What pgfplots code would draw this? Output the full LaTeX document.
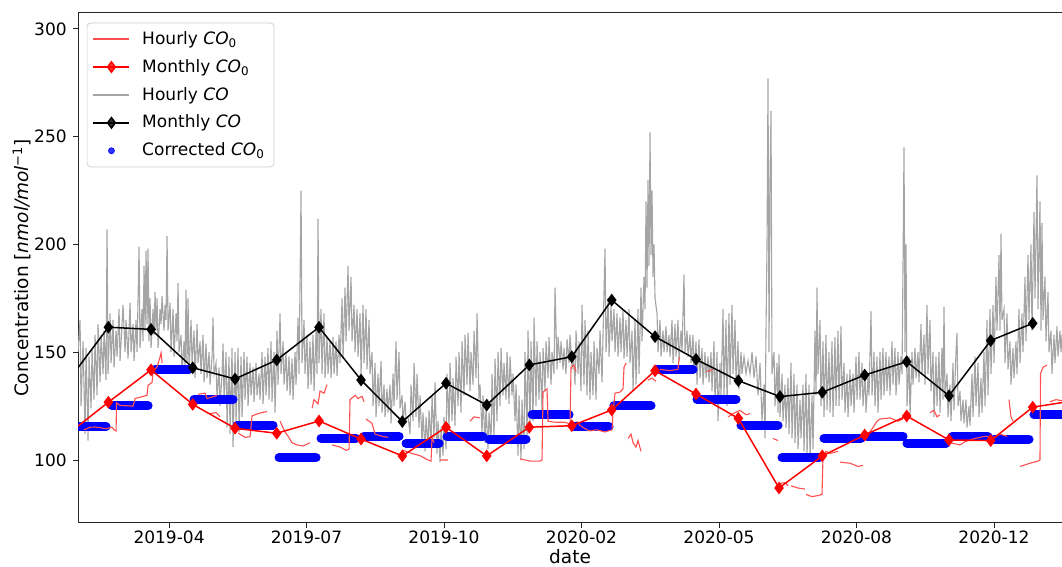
\documentclass[border=0pt]{standalone}
\usepackage{fontspec}
\setmainfont{DejaVu Sans}
\usepackage{pgfplots}
\pgfplotsset{compat=1.18}
\definecolor{hred}{RGB}{255,80,80}
\definecolor{hgrey}{RGB}{165,165,165}
\definecolor{cblue}{RGB}{0,0,255}
\begin{document}
\begin{tikzpicture}
\begin{axis}[
  scale only axis,
  width=531.9pt, height=275.7pt,
  xmin=78, xmax=1062, ymin=70.8, ymax=307.4,
  axis line style={black!85, line width=0.5pt},
  xtick={169,306.5,444,581.5,719,856.5,994},
  xticklabels={2019-04,2019-07,2019-10,2020-02,2020-05,2020-08,2020-12},
  ytick={100,150,200,250,300},
  tick align=outside, major tick length=2.6pt,
  tick style={black!85, line width=0.5pt},
  xtick pos=bottom, ytick pos=left,
  /pgf/number format/assume math mode=true,
  ticklabel style={font=\fontsize{9.2}{11}\selectfont},
  xticklabel style={yshift=2pt},
  xlabel={date}, ylabel={Concentration [\textit{nmol/mol}\textsuperscript{−1}]},
  label style={font=\fontsize{10}{12}\selectfont},
  xlabel style={at={(axis description cs:0.5,-0.0667)}, anchor=center},
  ylabel style={at={(axis description cs:-0.0569,0.5)}, anchor=center},
  unbounded coords=jump,
  legend cell align=left,
  legend style={at={(0,1)}, anchor=north west, xshift=4.7pt, yshift=-5.2pt,
    draw=black!20, rounded corners=2pt, fill=white, fill opacity=0.8, text opacity=1,
    font=\fontsize{9.2}{11}\selectfont, row sep=2.6pt, inner xsep=3pt, inner ysep=2.5pt},
  legend image code/.code={\draw[mark repeat=2,mark phase=2] plot coordinates {(0pt,0pt)(9.75pt,0pt)(19.5pt,0pt)};\path (24pt,0pt);},
]
% Hourly CO (grey)
\addplot[hgrey, line width=0.6pt, forget plot] coordinates {
(78,150)(80,165)(81,125)(83,155)(85,112)(86,152)(88,109)(89,148)(91,124)(92,151)(94,128)(95,158)(97,130)(98,163)(100,136)(101,158)(103,140)(104,160)(106,137)(107,207)(108,140)(110,168)(111,145)(113,165)(114,143)(116,160)(117,148)(119,170)(120,146)
(123,172)(125,150)(126,165)(128,147)(130,173)(131,150)(133,163)(134,146)(136,165)(137,150)(139,199)(140,152)(142,170)(143,155)(144,190)(145,160)(146,197)(147,163)(148,198)(149,155)(150,175)(151,152)(153,170)(154,158)(155,178)(156,160)(157,175)(158,152)(160,170)(161,163)(162,176)(164,160)(165,172)(166,165)(167,204)(168,160)(170,173)(171,150)(173,170)(174,148)(176,168)(177,155)(178,182)(179,150)(181,158)(182,140)(184,155)(185,142)(186,179)(187,145)(188,175)(189,140)(191,165)(192,145)(194,160)(195,138)(197,163)(198,145)(200,155)(201,140)(203,158)(204,136)(206,154)(207,138)(209,150)(210,135)(212,148)(213,166)(214,140)(216,145)(217,128)(219,143)(220,125)(222,140)(223,154)(224,128)(226,150)(227,115)(229,148)(230,112)(232,152)(233,106)(235,150)(236,118)(238,152)(239,113)(241,148)(242,120)
(244,150)(245,128)(247,148)(248,125)(250,145)(251,130)(253,143)(254,127)(256,145)(257,130)(259,140)(260,128)(262,150)(263,126)(265,148)(266,130)(268,152)(269,128)(271,155)(272,127)(274,150)(275,122)(277,160)(278,135)(280,168)(281,140)(283,155)(284,135)(286,150)(287,132)(289,148)(290,130)(292,147)(293,128)(295,150)(296,135)(298,166)(299,140)(301,225)(302,145)(304,165)(305,140)(307,158)(308,133)(310,155)(311,135)(313,158)(314,132)(316,160)(317,140)(318,212)(319,145)(321,170)(322,140)(324,168)(325,138)(327,157)(328,140)(330,155)(331,138)(333,157)(334,140)(336,155)(337,139)(339,158)(340,145)(342,175)(343,147)(345,180)(346,155)(348,190)(349,160)(351,185)(352,155)(354,172)(355,150)(357,170)(358,148)(360,168)(361,140)(363,172)(364,145)(366,170)(367,142)(369,165)(370,140)(372,150)(373,125)(375,145)(376,120)(378,140)(379,125)(381,146)(382,122)(384,135)(385,120)(387,133)(388,122)(390,135)(391,117)(393,140)(394,125)(396,155)(397,128)(399,150)(400,124)(402,130)(403,118)(405,127)(406,119)
(408,120)(410,112)(411,135)(413,118)(414,145)(416,120)(417,140)(419,115)(420,130)(422,108)(423,122)(425,104)(426,120)(428,106)(429,123)(431,108)(432,130)(434,110)(435,136)(437,103)(438,118)(440,99)(441,115)(443,102)(444,120)(446,105)(447,140)(449,115)(450,145)(452,118)(453,138)(455,116)(456,148)(458,125)(459,150)(461,122)(462,155)(464,130)(465,158)(467,135)(468,159)(470,132)(471,150)(473,135)(474,160)(476,138)(477,168)(479,128)(480,135)(482,112)(483,130)(485,108)(486,125)(488,105)(489,122)(491,108)(492,140)(494,110)(495,147)(497,118)(498,150)(500,125)(501,152)(503,130)(504,145)(506,128)(507,150)(509,126)(510,148)(512,130)(513,140)(515,118)(516,135)(518,102)(519,130)(521,100)(522,128)(524,105)(525,150)(527,110)(528,160)(530,115)(531,155)(533,118)(534,166)(536,125)(537,155)(539,128)(540,150)(542,122)(543,152)(545,132)(546,155)(548,138)(549,157)(551,135)(552,150)(554,140)(555,180)(557,142)(558,157)(560,145)(561,155)(563,142)(564,152)(566,140)(567,156)(569,145)(570,158)(572,142)(573,150)
(575,135)(576,160)(578,140)(579,155)(581,132)(582,172)(584,135)(585,165)(587,130)(588,160)(590,128)(591,150)(593,130)(594,155)(596,128)(597,152)(599,140)(600,160)(602,136)(603,158)(605,198)(606,150)(608,175)(609,148)(611,172)(612,155)(614,170)(615,150)(617,168)(618,148)(620,166)(621,150)(623,170)(624,147)(626,165)(627,148)(629,170)(630,145)(632,160)(633,132)(635,165)(636,135)(638,170)(639,140)(641,180)(642,155)(644,185)(645,170)(646,220)(647,180)(648,230)(649,190)(650,252)(651,195)(652,225)(653,185)(654,200)(655,175)(657,168)(658,150)(660,165)(661,148)(663,160)(664,150)(666,162)(667,150)(669,158)(670,148)(672,165)(673,145)(675,163)(676,148)(678,165)(679,146)(681,160)(682,150)(684,186)(685,150)(687,160)(688,148)(690,158)(691,145)(693,158)(694,140)(696,155)(697,135)(699,156)(700,138)(702,152)(703,135)(705,150)(706,138)(708,148)(709,136)(711,150)(712,132)(714,155)(715,125)(717,150)(718,118)(720,145)(721,130)(723,170)(724,130)(726,165)(727,125)(729,168)(730,135)(732,172)(733,140)(735,165)(736,135)(738,155)
(739,133)(741,150)(742,140)(744,148)(746,140)(748,146)(750,140)(752,150)(754,138)(756,148)(758,130)(760,145)(762,118)(764,135)(765,110)(766,160)(767,200)(768,277)(769,150)(770,230)(771,262)(772,140)(774,150)(775,125)(777,145)(778,122)(779,149)(780,120)(782,140)(783,118)(785,135)(786,115)(788,138)(789,112)(791,145)(792,110)(794,140)(795,108)(797,135)(798,105)(800,128)(801,110)(803,135)(804,104)(806,140)(807,102)(809,135)(810,100)(812,130)(813,105)(815,160)(816,130)(817,180)(818,140)(820,165)(821,125)(823,155)(824,120)(826,158)(827,123)(829,150)(830,122)(832,155)(833,120)(835,157)(836,125)(838,160)(839,125)(841,162)(842,128)(844,145)(845,122)(847,140)(848,120)(850,142)(851,125)(853,140)(854,122)(856,148)(857,128)(859,150)(860,128)(862,145)(863,125)(865,140)(866,122)(868,138)(869,130)(871,169)(872,130)(874,150)(875,125)(877,148)(878,122)(880,150)(881,128)(883,152)(884,130)(886,150)(887,132)(889,148)(890,130)(892,155)(893,135)(895,152)(896,130)(898,150)(899,135)(901,148)(902,140)
(903,190)(904,245)(905,150)(906,200)(907,125)(909,148)(910,120)(912,150)(913,135)(915,152)(916,138)(918,150)(919,136)(921,163)(922,140)(924,158)(925,135)(927,172)(928,140)(930,165)(931,132)(933,150)(934,120)(936,148)(937,125)(939,150)(940,122)(942,152)(943,128)(944,171)(945,130)(947,140)(948,120)(950,135)(951,118)(953,145)(954,123)(956,150)(957,159)(958,125)(960,132)(961,118)(963,128)(964,117)(966,128)(967,115)(969,125)(970,116)(972,140)(973,120)(975,148)(976,125)(978,145)(979,120)(981,138)(982,122)(984,150)(985,125)(987,165)(988,130)(990,170)(991,140)(993,172)(994,145)(996,185)(997,160)(999,195)(1000,160)(1001,205)(1002,165)(1004,170)(1005,145)(1007,168)(1008,142)(1010,155)(1011,135)(1013,152)(1014,138)(1016,155)(1017,140)(1019,170)(1020,145)(1022,168)(1023,150)(1025,185)(1026,155)(1028,195)(1029,165)(1031,200)(1032,160)(1034,215)(1035,175)(1037,232)(1038,170)(1040,220)(1041,160)(1042,210)(1043,165)(1045,185)(1046,155)(1048,178)(1049,150)(1051,160)(1052,140)(1054,158)(1055,145)(1057,162)(1058,148)(1060,160)(1061,150)(1062,158)
};
% Monthly CO (black)
\addplot[black, line width=0.8pt, mark=diamond*, mark size=2.8pt, forget plot] coordinates {
(65,134.8)(108.3,161.6)(151,160.6)(192.7,142.8)(235,137.6)(276.7,146.4)(319,161.6)(361,137.1)(402.3,117.8)(446,135.6)(486.7,125.5)(529.3,144.1)(571.7,147.9)(611.7,174.2)(655,157.2)(696,146.7)(738.3,136.8)(780,129.4)(822.3,131.4)(864.7,139.4)(906.7,145.6)(949,129.8)(990.7,155.4)(1032.7,163.4)
};
% Corrected CO0 (blue)
\addplot[cblue, line width=4.9pt, line cap=round, forget plot] coordinates {
(60,115.5)(106,115.5)(106,nan)
(112,125.2)(148,125.2)(148,nan)
(155,142.0)(189,142.0)(189,nan)
(194,128.1)(233,128.1)(233,nan)
(237,116.2)(273,116.2)(273,nan)
(279,101.1)(316,101.1)(316,nan)
(321,110.1)(356,110.1)(356,nan)
(364,111.1)(399,111.1)(399,nan)
(406,107.7)(439,107.7)(439,nan)
(447,110.8)(483,110.8)(483,nan)
(489,109.7)(526,109.7)(526,nan)
(532,120.9)(569,120.9)(569,nan)
(574,115.5)(609,115.5)(609,nan)
(614,125.2)(651,125.2)(651,nan)
(657,142.0)(693,142.0)(693,nan)
(697,128.1)(736,128.1)(736,nan)
(741,116.2)(778,116.2)(778,nan)
(782,101.1)(819,101.1)(819,nan)
(824,110.1)(861,110.1)(861,nan)
(867,111.1)(903,111.1)(903,nan)
(907,107.7)(946,107.7)(946,nan)
(952,110.8)(988,110.8)(988,nan)
(994,109.7)(1029,109.7)(1029,nan)
(1034,120.9)(1075,120.9)
};
% Hourly CO0 (light red)
\addplot[hred, line width=0.6pt, forget plot] coordinates {
(84,114)(90,115.2)(95,115.3)(100,115.0)(106,114.5)(112,115.2)(115,113.5)(115,nan)
(116,113)(116.5,126.5)(120,125.3)(133,125.0)(135,128.5)(147,130.0)(148,134.6)(152,136)(153,141)(157,143.2)(160,147.8)(161,149.7)(162,145)(162,nan)
(198,130.5)(205,131)(207,128.5)(214,129.5)(217,130)(217,nan)
(210,121.5)(216,122)(220,120)(220,nan)
(238,112.5)(245,110.5)(250,110.8)(252,120.5)(258,121.5)(262,122)(267,122.5)(267,nan)
(280,118)(285,113)(288,111)(292,108)(297,107)(303,106.5)(310,108)(310,nan)
(312,124)(314,128)(318,126)(320,132)(324,131)(327,135)(327,nan)
(332,107)(340,106)(346,104.5)(349,105)(350,128)(355,130)(358,128.5)(362,129.5)(364,127)(364,nan)
(366,119)(372,117)(375,112)(382,111)(388,110.5)(388,nan)
(403,104.5)(412,103)(420,102)(428,100)(431,99.5)(432,110.5)(434,108)(434,nan)
(440,100)(448,100)(448,nan)
(470,118)(474,120)(480,119.5)(480,nan)
(520,100.5)(530,99.5)(540,99.5)(542,100)(543,131.5)(547,133)(548,118)(555,117.5)(565,117.5)(568,117)(570,116)(571,143)(574,144)(576,141)(576,nan)
(577,118)(580,116)(587,114)(590,113.5)(597,114)(605,113)(612,114)(613,122)(615,131)(620,131.5)(623,133)(624,143)(626,145)(626,nan)
(628,110)(631,112)(633,108)(636,106)(638,109)(641,104)(641,nan)
(648,137)(652,138)(656,136.5)(656,nan)
(660,142)(670,141.5)(678,142)(679,147)(680,147.5)(680,nan)
(706,141)(713,142)(713,nan)
(728,120)(735,122)(740,123)(746,121)(750,121.5)(750,nan)
(773,110)(778,109)(778,nan)
(779,89)(785,89.5)(788,88)(788,nan)
(791,88)(798,87)(805,86.5)(805,nan)
(806,84)(812,83)(818,83.5)(822,84)(823,101.5)(826,104)(830,103)(838,104)(838,nan)
(840,99)(850,98.5)(858,97)(863,97.5)(863,nan)
(865,112)(870,113)(877,118)(880,119)(890,119.5)(898,118)(903,119)(903,nan)
(930,122)(934,123)(937,120)(940,121)(940,nan)
(950,108)(960,107)(965,108.5)(975,110)(985,111)(995,110.5)(1000,112)(1007,111)(1007,nan)
(1009,128)(1011,120)(1013,118)(1013,nan)
(1020,97)(1030,98.5)(1038,99.5)(1040,100)(1040.5,140)(1043,143)(1047,144)(1047,nan)
(1050,127)(1056,128)(1062,127.5)
};
% Monthly CO0 (red)
\addplot[red, line width=0.8pt, mark=diamond*, mark size=2.8pt, forget plot] coordinates {
(65,111)(108.3,126.8)(151,141.8)(192.7,125.8)(235,114.7)(276.7,112.4)(319,118.1)(361,109.7)(402.3,101.9)(446,115.2)(486.7,101.9)(529.3,115.2)(571.7,115.9)(611.7,123.2)(655,141.4)(696,130.6)(738.3,119.3)(779,87)(822.3,101.9)(864.7,111.6)(906.7,120.4)(949,109.3)(990.7,109)(1032.7,124.5)(1074,127.5)
};
\addlegendimage{hred, line width=0.7pt}
\addlegendentry{Hourly \textit{CO}\textsubscript{0}}
\addlegendimage{red, line width=0.8pt, mark=diamond*, mark size=2.8pt}
\addlegendentry{Monthly \textit{CO}\textsubscript{0}}
\addlegendimage{hgrey, line width=0.8pt}
\addlegendentry{Hourly \textit{CO}}
\addlegendimage{black, line width=0.8pt, mark=diamond*, mark size=2.8pt}
\addlegendentry{Monthly \textit{CO}}
\addlegendimage{only marks, cblue, mark=*, mark size=1.6pt, legend image code/.code={\draw plot coordinates {(9.75pt,0pt)};\path (24pt,0pt);}}
\addlegendentry{Corrected \textit{CO}\textsubscript{0}}
\end{axis}
\pgfresetboundingbox
\path ([xshift=-42.2pt,yshift=-23.8pt]current axis.south west) rectangle ([yshift=7pt]current axis.north east);
\end{tikzpicture}
\end{document}
